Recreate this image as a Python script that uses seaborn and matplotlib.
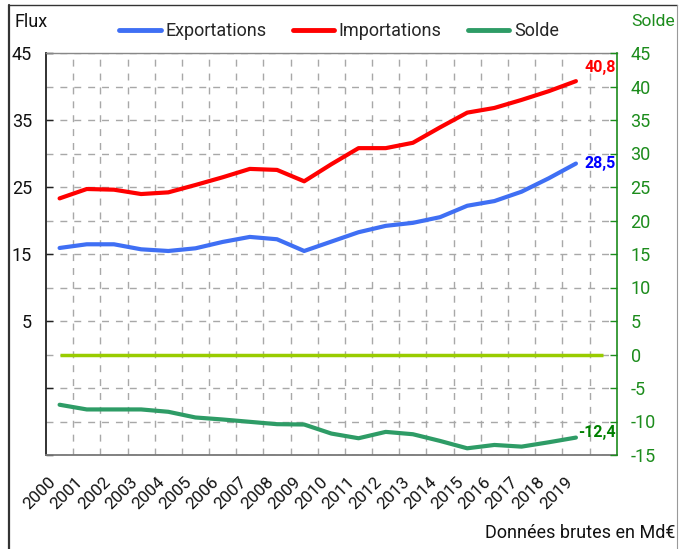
import matplotlib
matplotlib.use("Agg")
import matplotlib.pyplot as plt
import matplotlib.transforms as mtransforms
from matplotlib.lines import Line2D
import seaborn as sns
import pandas as pd

# Commerce extérieur, données brutes en milliards d'euros
years = [str(y) for y in range(2000, 2020)]
exportations = [15.9, 16.45, 16.45, 15.7, 15.45, 15.85, 16.8, 17.55, 17.2, 15.45,
                16.85, 18.25, 19.2, 19.65, 20.5, 22.2, 22.9, 24.3, 26.3, 28.5]
importations = [23.3, 24.7, 24.6, 23.95, 24.2, 25.3, 26.45, 27.7, 27.55, 25.85,
                28.4, 30.8, 30.8, 31.6, 33.9, 36.1, 36.8, 38.0, 39.3, 40.8]
solde = [-7.5, -8.2, -8.2, -8.2, -8.55, -9.4, -9.7, -10.05, -10.4, -10.45,
         -11.8, -12.5, -11.55, -11.9, -12.9, -14.0, -13.5, -13.75, -13.1, -12.4]
left_labels = ["", "", "5", "15", "25", "35", "45"]
right_ticks = list(range(-15, 50, 5))

C_EXP = "#3f6ff4"
C_IMP = "#ff0000"
C_SOLDE = "#2e9c66"
C_ZERO = "#99cc00"
C_AXIS2 = "#1c8c1c"

n = len(years)
pos = list(range(n))
flux = pd.DataFrame({
    "pos": pos * 2,
    "série": ["Exportations"] * n + ["Importations"] * n,
    "valeur": exportations + importations,
})
solde_df = pd.DataFrame({"pos": pos, "valeur": solde})

sns.set_style("white")
plt.rcParams["font.family"] = ["Roboto", "DejaVu Sans"]
plt.rcParams["font.size"] = 13

W, H = 679, 549
fig = plt.figure(figsize=(W / 100, H / 100), dpi=100)
ax = fig.add_axes([46 / W, 1 - 455 / H, (616.7 - 46) / W, (455 - 53) / H])

sns.lineplot(data=flux, x="pos", y="valeur", hue="série",
             palette={"Exportations": C_EXP, "Importations": C_IMP},
             linewidth=3, legend=False, ax=ax, zorder=3)

ymin, ymax = -15, 45
ax.set_xlim(-0.5, n + 0.5)
ax.set_ylim(ymin, ymax)
ax.set_xlabel("")
ax.set_ylabel("")

# left axis: labels every 10, grid every 5
ax.set_yticks(list(range(-15, 50, 10)))
ax.set_yticklabels(left_labels)
ax.set_yticks(list(range(-10, 45, 10)), minor=True)
ax.tick_params(axis="y", which="major", direction="in", length=5, width=1,
               color="#222222", pad=10, labelsize=13, labelcolor="#111111",
               left=True, right=False)
ax.tick_params(axis="y", which="minor", length=0)

# category axis: labels at points, grid between categories
ax.set_xticks(pos)
ax.set_xticks([p + 0.5 for p in pos], minor=True)
ax.set_xticklabels(years, rotation=45, ha="right", va="center",
                   rotation_mode="anchor", fontsize=12.3, color="#111111")
ax.tick_params(axis="x", which="both", length=0, pad=18)
shift = mtransforms.ScaledTranslation(-6 / 100, 0, fig.dpi_scale_trans)
for lab in ax.get_xticklabels():
    lab.set_transform(lab.get_transform() + shift)

grid_kw = dict(color="#a8a8a8", linewidth=1.0, linestyle=(0, (5, 5)))
ax.grid(axis="x", which="minor", **grid_kw)
ax.grid(axis="y", which="both", **grid_kw)
ax.grid(axis="x", which="major", visible=False)
ax.set_axisbelow(True)

ax.spines["left"].set_color("#222222")
ax.spines["left"].set_linewidth(1.3)
ax.spines["bottom"].set_color("#777777")
ax.spines["bottom"].set_linewidth(1.3)
ax.spines["top"].set_color("#888888")
ax.spines["top"].set_linewidth(1.0)
ax.spines["right"].set_visible(False)

# right axis for the balance
ax2 = ax.twinx()
ax2.set_ylim(ymin, ymax)
ax2.hlines(0, 0, n, color=C_ZERO, linewidth=2.5, zorder=2)
sns.lineplot(data=solde_df, x="pos", y="valeur", color=C_SOLDE,
             linewidth=3, ax=ax2, zorder=3)
ax2.set_ylabel("")
ax2.set_yticks(right_ticks)
ax2.set_yticklabels([str(t) for t in right_ticks])
ax2.tick_params(axis="y", direction="in", length=5, width=1, color=C_AXIS2,
                labelcolor=C_AXIS2, pad=10, labelsize=13)
for side in ("left", "top", "bottom"):
    ax2.spines[side].set_visible(False)
ax2.spines["right"].set_color(C_AXIS2)
ax2.spines["right"].set_linewidth(1.2)

# end-of-series values
def fmt(v):
    return f"{v:.1f}".replace(".", ",")

end_labels = [
    (ax, importations[-1], C_IMP, 10),
    (ax, exportations[-1], "#0000ff", 0),
    (ax2, solde[-1], "#008000", 4),
]
for a, v, col, dy in end_labels:
    a.annotate(fmt(v), xy=(1, v), xycoords=("axes fraction", "data"),
               xytext=(-0.5, dy), textcoords="offset points",
               ha="right", va="center", color=col, fontsize=11.5,
               fontweight="bold", annotation_clip=False)

# legend and axis titles
handles = [Line2D([], [], color=C_EXP, lw=3.5),
           Line2D([], [], color=C_IMP, lw=3.5),
           Line2D([], [], color=C_SOLDE, lw=3.5)]
fig.legend(handles, ["Exportations", "Importations", "Solde"],
           loc="center", bbox_to_anchor=(339 / W, 1 - 31 / H), ncol=3,
           frameon=False, handlelength=2.3, handletextpad=0.25,
           columnspacing=1.45, fontsize=13)
fig.text(14 / W, 1 - 22 / H, "Flux", ha="left", va="center",
         fontsize=13, color="#111111")
fig.text(675 / W, 1 - 21 / H, "Solde", ha="right", va="center",
         fontsize=12.6, color=C_AXIS2)
fig.text(675 / W, 1 - 533 / H, "Données brutes en Md€", ha="right",
         va="center", fontsize=13, color="#111111")

# outer frame
fig.add_artist(Line2D([9 / W, 9 / W], [0, 1 - 5 / H], transform=fig.transFigure,
                      color="#333333", linewidth=1.6))
fig.add_artist(Line2D([9 / W, 677 / W], [1 - 5 / H, 1 - 5 / H],
                      transform=fig.transFigure, color="#333333", linewidth=1.0))
fig.add_artist(Line2D([677 / W, 677 / W], [0, 1 - 5 / H],
                      transform=fig.transFigure, color="#999999", linewidth=0.8))

fig.savefig("out.png", dpi=100)
